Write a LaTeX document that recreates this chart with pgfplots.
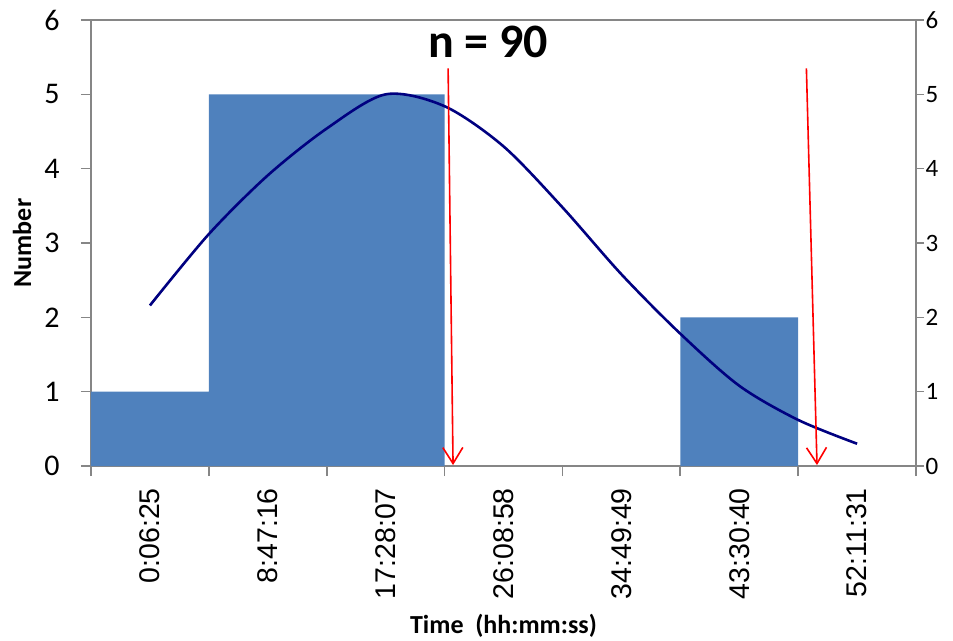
\documentclass[border=0pt]{standalone}
\usepackage{pgfplots}
\pgfplotsset{compat=1.18}
\usepackage{fontspec}
\setmainfont{Carlito}
\newfontfamily\arialf{Liberation Sans}
\usetikzlibrary{arrows.meta}
\definecolor{barblue}{HTML}{4F81BD}
\definecolor{axgray}{HTML}{868686}
\definecolor{curveblue}{HTML}{000080}
\begin{document}
\begin{tikzpicture}
\begin{axis}[name=ax,
  scale only axis, width=825pt, height=446pt,
  xmin=-0.5, xmax=6.5, ymin=0, ymax=6,
  clip=false,
  axis line style={axgray, line width=1.6pt},
  tick style={axgray, line width=1.6pt},
  tick align=outside,
  xtick={0,1,2,3,4,5,6},
  xticklabels={0:06:25,8:47:16,17:28:07,26:08:58,34:49:49,43:30:40,52:11:31},
  major x tick style={draw=none},
  minor xtick={-0.5,0.5,1.5,2.5,3.5,4.5,5.5,6.5},
  minor tick length=10pt,
  major tick length=10pt,
  xticklabel style={font=\arialf\fontsize{28.5}{30}\selectfont, rotate=90, anchor=east, inner sep=0pt, xshift=-12pt},
  ytick={0,1,2,3,4,5,6},
  ytick pos=left,
  xtick pos=bottom,
  yticklabel style={font=\fontsize{30}{32}\selectfont, xshift=-18pt},
  /pgf/number format/assume math mode=true,
  xlabel={\textbf{Time\ \ (hh:mm:ss)}},
  xlabel style={font=\fontsize{26}{28}\selectfont, at={(axis description cs:0.5,0)}, anchor=base, yshift=-167pt},
  ylabel={\textbf{Number}},
  ylabel style={font=\fontsize{26}{28}\selectfont, at={(axis description cs:0,0.5)}, anchor=center, yshift=69pt},
]
\addplot[ybar, bar width=1, bar shift=0, fill=barblue, draw=none]
  coordinates {(0,1) (1,5) (2,5) (5,2)};
\addplot[curveblue, line width=2.6pt, smooth, mark=none] coordinates {
 (0,2.16) (0.5,3.12) (1.0,3.91) (1.5,4.54) (2.0,5.00) (2.5,4.84) (3.0,4.30)
 (3.5,3.48) (4.0,2.58) (4.5,1.78) (5.0,1.08) (5.5,0.62) (6.0,0.30)};
\addplot[red, line width=1.6pt, -{Straight Barb[length=16pt,width=20pt,line width=1.6pt]}]
  coordinates {(2.53,5.35) (2.572,0.013)};
\addplot[red, line width=1.6pt, -{Straight Barb[length=16pt,width=20pt,line width=1.6pt]}]
  coordinates {(5.57,5.35) (5.66,0.013)};
\node[font=\bfseries\fontsize{48}{50}\selectfont] at (axis cs:2.87,5.71) {n = 90};
\end{axis}
\begin{axis}[
  scale only axis, width=825pt, height=446pt,
  xmin=-0.5, xmax=6.5, ymin=0, ymax=6,
  axis x line=none,
  axis y line*=right,
  axis line style={axgray, line width=1.6pt},
  tick style={axgray, line width=1.6pt},
  tick align=outside, major tick length=8pt,
  ytick={0,1,2,3,4,5,6},
  yticklabel style={font=\fontsize{25}{27}\selectfont, xshift=-2pt},
  /pgf/number format/assume math mode=true,
]
\addplot[draw=none] coordinates {(0,0)};
\end{axis}
\pgfresetboundingbox
\path ([shift={(-91pt,-174pt)}]ax.south west) rectangle ([shift={(37pt,20pt)}]ax.north east);
\end{tikzpicture}
\end{document}
